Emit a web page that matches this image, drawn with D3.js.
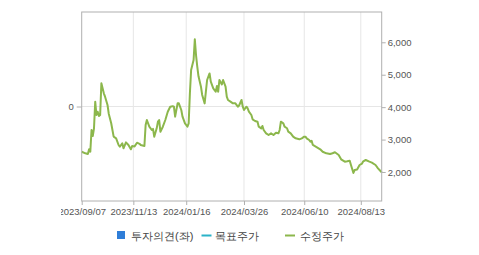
<!DOCTYPE html>
<html>
<head>
<meta charset="utf-8">
<script src="https://cdn.jsdelivr.net/npm/d3@7"></script>
<style>
  body { margin: 0; background: #fff; }
  svg text { font-family: "Liberation Sans", Arial, sans-serif; }
</style>
</head>
<body>
<svg id="chart" width="479" height="255"></svg>
<script>
// trading-day index (0 = 2023/09/07) and adjusted close (수정주가)
var priceDays = [0, 3, 5, 6, 7, 8, 9, 10, 11, 12, 13, 14, 15, 16, 18, 19, 21, 22, 24, 25,
  26, 28, 30, 31, 33, 34, 36, 38, 40, 41, 43, 45, 47, 48, 51, 52, 53, 55, 57, 58,
  59, 61, 62, 63, 64, 66, 68, 70, 72, 74, 75, 76, 78, 79, 81, 82, 84, 85, 86, 87,
  88, 89, 91, 92, 93, 94, 95, 97, 98, 100, 101, 102, 104, 105, 107, 109, 110, 111, 112, 114,
  115, 117, 118, 119, 121, 123, 125, 127, 128, 130, 131, 132, 134, 135, 136, 138, 139, 141, 143, 144,
  146, 147, 148, 150, 152, 154, 156, 158, 160, 161, 162, 164, 165, 167, 168, 170, 172, 174, 177, 179,
  181, 182, 183, 185, 186, 187, 188, 191, 194, 196, 199, 202, 204, 206, 209, 211, 214, 216, 218, 219,
  221, 222, 224, 226, 228, 229, 231, 234, 236, 239, 241, 243, 244];
var priceValues = [2626, 2577, 2555, 2700, 2626, 3295, 3110, 3347, 4168, 3758, 3860, 3727, 3760, 4735, 4427, 4322, 4066, 3800, 3502, 3295,
  3089, 3039, 2833, 2780, 2885, 2730, 2916, 2833, 2700, 2800, 2790, 2904, 2870, 2833, 2802, 3450, 3604, 3397, 3295, 3330,
  3089, 3347, 3551, 3600, 3243, 3397, 3604, 3860, 4014, 4030, 4014, 3706, 4117, 4117, 3912, 3706, 3502, 3450, 3400, 3500,
  4427, 5146, 5454, 6093, 5600, 5250, 4950, 4632, 4375, 4117, 4476, 4837, 5040, 4785, 4581, 4476, 4650, 4476, 4837, 4700,
  4837, 4632, 4322, 4220, 4170, 4117, 4117, 4014, 4050, 4220, 4014, 3912, 4014, 3960, 3860, 3758, 3625, 3573, 3550, 3397,
  3347, 3419, 3295, 3193, 3141, 3193, 3141, 3212, 3193, 3295, 3551, 3502, 3397, 3350, 3243, 3193, 3089, 3039, 3008, 3039,
  3089, 3089, 3039, 2987, 2935, 2960, 2833, 2770, 2700, 2626, 2577, 2555, 2580, 2610, 2524, 2391, 2318, 2330, 2349, 2216,
  1970, 2062, 2080, 2216, 2260, 2330, 2370, 2320, 2290, 2216, 2114, 2030, 1990];

var tickDays = [0, 42, 85, 132, 181, 227];
var tickLabels = ["2023/09/07", "2023/11/13", "2024/01/16", "2024/03/26", "2024/06/10", "2024/08/13"];
var priceTicks = [2000, 3000, 4000, 5000, 6000];
var opinionTicks = [0];
var legendNames = ["투자의견(좌)", "목표주가", "수정주가"];

var pl = 81.7, pt = 12, pr = 381.7, pb = 201;
var svg = d3.select("#chart");

var x = d3.scaleLinear().domain([0, 244]).range([pl, pr]);
var yR = d3.scaleLinear().domain([1106, 6934]).range([pb, pt]);
var yL = d3.scaleLinear().domain([-1, 1]).range([pb, pt]);

svg.append("clipPath").attr("id", "clipAll")
  .append("rect").attr("x", 61).attr("y", 0).attr("width", 418).attr("height", 255);

var g = svg.append("g").attr("clip-path", "url(#clipAll)");

// gridlines
g.append("g").selectAll("line").data(tickDays.slice(1)).join("line")
  .attr("x1", d => x(d)).attr("x2", d => x(d))
  .attr("y1", pt).attr("y2", pb)
  .attr("stroke", "#e6e6e6").attr("stroke-width", 1);
g.append("g").selectAll("line").data(opinionTicks).join("line")
  .attr("x1", pl).attr("x2", pr)
  .attr("y1", d => yL(d)).attr("y2", d => yL(d))
  .attr("stroke", "#e6e6e6");

// price line
var line = d3.line().x((d, i) => x(priceDays[i])).y(d => yR(d));
g.append("path").datum(priceValues)
  .attr("d", line)
  .attr("fill", "none")
  .attr("stroke", "#8cb74c")
  .attr("stroke-width", 2)
  .attr("stroke-linejoin", "round");

// frame
g.append("rect")
  .attr("x", pl).attr("y", pt)
  .attr("width", pr - pl).attr("height", pb - pt)
  .attr("fill", "none").attr("stroke", "#b0b0b0");

// axes
var xAxis = d3.axisBottom(x).tickValues(tickDays)
  .tickFormat((d, i) => tickLabels[i]).tickSize(4).tickPadding(3);
var gx = g.append("g").attr("transform", "translate(0," + pb + ")").call(xAxis);

var rAxis = d3.axisRight(yR).tickValues(priceTicks)
  .tickFormat(d3.format(",")).tickSize(4).tickPadding(2);
var gr = g.append("g").attr("transform", "translate(" + pr + ",0)").call(rAxis);

var lAxis = d3.axisLeft(yL).tickValues(opinionTicks)
  .tickFormat(d3.format("d")).tickSize(5).tickPadding(3);
var gl = g.append("g").attr("transform", "translate(" + pl + ",0)").call(lAxis);

[gx, gr, gl].forEach(function(a) {
  a.select(".domain").remove();
  a.selectAll(".tick line").attr("stroke", "#b0b0b0");
  a.selectAll("text").attr("fill", "#555").style("font-size", "9.5px")
    .style("font-family", "'Liberation Sans', Arial, sans-serif");
});

// legend
var lg = svg.append("g").style("font-family", "'Noto Sans CJK KR', sans-serif").style("font-size", "11px");
lg.append("rect").attr("x", 117).attr("y", 231).attr("width", 8).attr("height", 8).attr("fill", "#2f7ed8");
lg.append("text").attr("x", 131).attr("y", 239.5).attr("fill", "#444").text(legendNames[0]);
lg.append("line").attr("x1", 201.5).attr("x2", 211.5).attr("y1", 235.5).attr("y2", 235.5)
  .attr("stroke", "#2bb3c8").attr("stroke-width", 2);
lg.append("text").attr("x", 215).attr("y", 239.5).attr("fill", "#444").text(legendNames[1]);
lg.append("line").attr("x1", 285).attr("x2", 295).attr("y1", 235.5).attr("y2", 235.5)
  .attr("stroke", "#8cb74c").attr("stroke-width", 2);
lg.append("text").attr("x", 300).attr("y", 239.5).attr("fill", "#444").text(legendNames[2]);
</script>
</body>
</html>
